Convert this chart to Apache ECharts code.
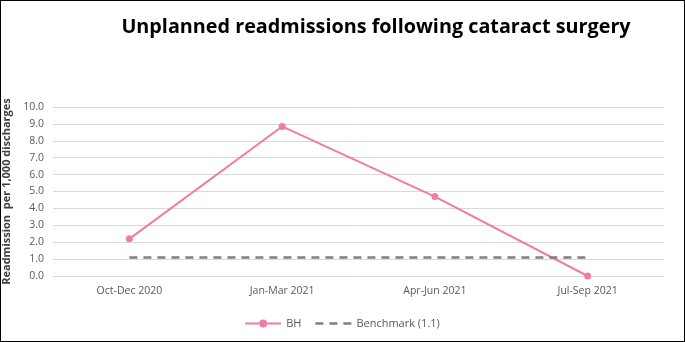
<!DOCTYPE html>
<html><head><meta charset="utf-8">
<script src="https://cdn.jsdelivr.net/npm/echarts@6/dist/echarts.min.js"></script>
<style>
html,body{margin:0;padding:0;background:#fff;}
#c{position:absolute;left:0;top:0;width:683px;height:340px;border:1px solid #000;}
</style></head><body>
<div id="c"></div>
<script>
const categories = ['Oct-Dec 2020','Jan-Mar 2021','Apr-Jun 2021','Jul-Sep 2021'];
const bhValues = [2.2, 8.85, 4.7, 0.0];
const benchmarkValues = [1.1, 1.1, 1.1, 1.1];
const yTicks = {min:0, max:10, interval:1};

const chart = echarts.init(document.getElementById('c'));
chart.setOption({
  animation:false,
  title:{text:'Unplanned readmissions following cataract surgery', left:370, top:11, textAlign:'center',
    textStyle:{fontFamily:'Open Sans', fontWeight:'bold', fontSize:19.8, color:'#000'}},
  grid:{left:52, right:20, top:106, bottom:65, outerBoundsMode:'none', containLabel:false},
  xAxis:{type:'category', data:categories, boundaryGap:true,
    axisLine:{show:false}, axisTick:{show:false},
    axisLabel:{color:'#595959', fontFamily:'Open Sans', fontSize:10.5, margin:10}},
  yAxis:{type:'value', min:yTicks.min, max:yTicks.max, interval:yTicks.interval,
    name:'Readmission  per 1,000 discharges', nameLocation:'middle', nameGap:30,
    nameTextStyle:{fontFamily:'Open Sans', fontWeight:'bold', fontSize:11, color:'#404040'},
    axisLabel:{color:'#595959', fontFamily:'Open Sans', fontSize:10.5, margin:9, formatter:v=>v.toFixed(1)},
    splitLine:{lineStyle:{color:'#d9d9d9'}}},
  legend:{top:312, left:'center', itemGap:14, itemWidth:36, itemHeight:9, symbolKeepAspect:true,
    textStyle:{color:'#595959', fontFamily:'Open Sans', fontSize:11},
    data:[{name:'BH', icon:'path://M0,3.5h14v2h-14z M22,3.5h14v2h-14z M18,0.5a4,4 0 1,0 0.01,0z'},
          {name:'Benchmark (1.1)', icon:'path://M0,0h8v2.5h-8z M14,0h8v2.5h-8z M28,0h8v2.5h-8z'}]},
  series:[
    {name:'BH', type:'line', data:bhValues, symbol:'circle', symbolSize:7,
      lineStyle:{color:'#F27BA5', width:2}, itemStyle:{color:'#F27BA5'}},
    {name:'Benchmark (1.1)', type:'line', data:benchmarkValues, symbol:'none',
      lineStyle:{color:'#7f7f7f', width:2.5, type:[8,6]}, itemStyle:{color:'#7f7f7f'}}
  ]
});
</script></body></html>
